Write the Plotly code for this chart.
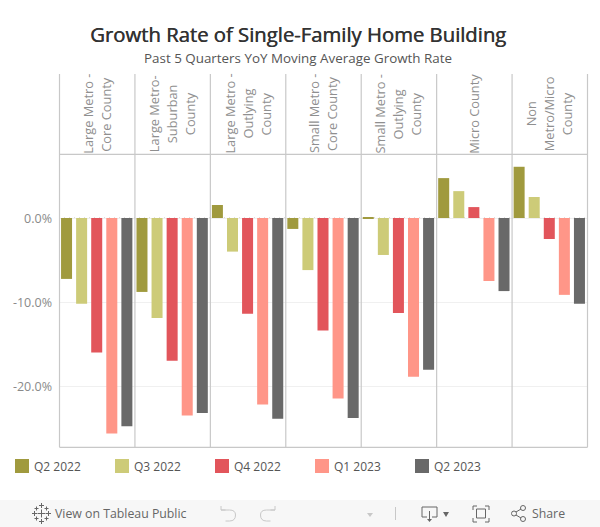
import plotly.graph_objects as go

regions = ["Large Metro -<br>Core County", "Large Metro-<br>Suburban<br>County", "Large Metro -<br>Outlying<br>County",
           "Small Metro -<br>Core County", "Small Metro -<br>Outlying<br>County", "Micro County", "Non<br>Metro/Micro<br>County"]
quarters = ["Q2 2022", "Q3 2022", "Q4 2022", "Q1 2023", "Q2 2023"]
colors = ["#A09A3E", "#CDCB78", "#E2555B", "#FF9688", "#696969"]
q2_2022 = [-7.25, -8.8, 1.55, -1.3, 0.1, 4.75, 6.1]
q3_2022 = [-10.2, -11.9, -4.0, -6.2, -4.4, 3.2, 2.5]
q4_2022 = [-16.0, -17.0, -11.4, -13.4, -11.3, 1.3, -2.5]
q1_2023 = [-25.65, -23.5, -22.2, -21.5, -18.9, -7.5, -9.15]
q2_2023 = [-24.8, -23.2, -23.9, -23.8, -18.05, -8.7, -10.2]
series = [q2_2022, q3_2022, q4_2022, q1_2023, q2_2023]
y_ticks = [0, -10, -20]
y_tick_labels = ["0.0%", "-10.0%", "-20.0%"]
y_range = [-27.26, 7.62]

W, H = 600, 527
L, R, T, B = 59, 587, 154, 447
FONT = "Open Sans"
GRID = "#C8C8C8"
ICON = "#666666"
SOFT = "#C8C8C8"
BAR_BG = "#F7F7F7"


def px(x):
    return (x - L) / (R - L)


def py(y):
    return (B - y) / (B - T)


fig = go.Figure()
for name, vals, col in zip(quarters, series, colors):
    fig.add_bar(name=name, x=regions, y=vals, marker_color=col, marker_line_width=0,
                hovertemplate="%{y:.1f}%<extra>" + name + "</extra>")

shapes = []
annotations = []


def rect(x0, y0, x1, y1, fill, line=None, layer="above"):
    shapes.append(dict(type="rect", xref="paper", yref="paper", x0=px(x0), x1=px(x1), y0=py(y0), y1=py(y1),
                       fillcolor=fill, line=dict(width=1 if line else 0, color=line or fill), layer=layer))


def seg(x0, y0, x1, y1, col=GRID, w=1, layer="above"):
    shapes.append(dict(type="line", xref="paper", yref="paper", x0=px(x0), x1=px(x1), y0=py(y0), y1=py(y1),
                       line=dict(color=col, width=w), layer=layer))


def poly(pts, col):
    path = "M" + " L".join(f"{px(a)},{py(b)}" for a, b in pts) + " Z"
    shapes.append(dict(type="path", xref="paper", yref="paper", path=path, fillcolor=col, line=dict(width=0)))


def curve(cmds, col):
    path = " ".join(c[0] + " ".join(f"{px(a)},{py(b)}" for a, b in c[1:]) for c in cmds)
    shapes.append(dict(type="path", xref="paper", yref="paper", path=path, line=dict(color=col, width=1)))


def text(x, y, s, size, col, anchor="center", angle=0, shadow=None):
    if anchor == "left":
        x -= 2
    f = dict(family=FONT, size=size, color=col)
    if shadow:
        f["shadow"] = shadow
    annotations.append(dict(xref="paper", yref="paper", x=px(x), y=py(y), text=s, showarrow=False,
                            font=f, xanchor=anchor, yanchor="middle", textangle=angle, align="center"))


# facet frame and header
step = (R - L) / len(regions)
for i in range(len(regions) + 1):
    xx = L + 0.5 + i * step
    seg(xx, 74, xx, B + 0.3, w=1.2)
seg(L + 0.5, 154.3, R + 0.5, 154.3, w=1.2)
seg(L + 0.5, B + 0.3, R + 0.5, B + 0.3, w=1.2)

# dotted zero line
shapes.append(dict(type="line", xref="paper", yref="y", x0=0, x1=1, y0=0, y1=0,
                   line=dict(color="#BDBDBD", width=1, dash="1px,4px"), layer="below"))

# rotated header labels, one annotation per line
for i, lab in enumerate(regions):
    lines = lab.split("<br>")
    cx = L + (i + 0.5) * step
    for j, ln in enumerate(lines):
        text(cx + (j - (len(lines) - 1) / 2) * 18, 114, ln, 12.8, "#8F8F8F", angle=-90)

# titles
text(298, 34, "Growth Rate of Single-Family Home Building", 20.3, "#333333", shadow="0.5px 0 0 #333333")
text(298, 57.5, "Past 5 Quarters YoY Moving Average Growth Rate", 13.4, "#555555")

# legend
for i, (q, col) in enumerate(zip(quarters, colors)):
    x0 = 15 + i * 100
    rect(x0, 459, x0 + 14, 473, col)
    text(x0 + 19, 466.5, q, 12, "#555555", anchor="left")

# toolbar
rect(0, 500, 600, 527, BAR_BG, layer="below")
text(55, 513.5, "View on Tableau Public", 12.3, ICON, anchor="left")
text(532, 513.5, "Share", 12.3, ICON, anchor="left")
# tableau mark
for cx, cy, r in [(41.5, 513.5, 4), (41.5, 505.5, 2.5), (41.5, 521.5, 2.5), (34.5, 513.5, 2.5), (48.5, 513.5, 2.5),
                  (36.5, 508.5, 2), (46.5, 508.5, 2), (36.5, 518.5, 2), (46.5, 518.5, 2)]:
    seg(cx - r, cy, cx + r, cy, ICON, 1)
    seg(cx, cy - r, cx, cy + r, ICON, 1)
# undo / redo
for s, o in [(1, 220.5), (-1, 275.5)]:
    curve([("M", (o + s * 0.5, 506)), ("L", (o + s * 0.5, 510)), ("L", (o + s * 5, 510))], SOFT)
    curve([("M", (o + s * 0.5, 510)), ("L", (o + s * 9, 510)), ("Q", (o + s * 15, 510), (o + s * 15, 515)),
           ("Q", (o + s * 15, 521), (o + s * 9, 521)), ("L", (o + s * 5, 521))], SOFT)
seg(395.5, 507, 395.5, 520, SOFT, 1)
# download
for a, b, c, d in [(422, 507, 437, 507), (422, 507, 422, 517), (437, 507, 437, 517), (422, 517, 427, 517), (432, 517, 437, 517),
                   (429.5, 511, 429.5, 520)]:
    seg(a, b, c, d, ICON, 1)
poly([(427, 519), (432, 519), (429.5, 522)], ICON)
poly([(367, 513), (373, 513), (370, 517)], SOFT)
poly([(443, 512), (449, 512), (446, 517)], ICON)
# fullscreen
rect(476.5, 509, 485.5, 518, "rgba(0,0,0,0)", ICON)
for a, b, sx, sy in [(473, 506, 1, 1), (489, 506, -1, 1), (473, 522, 1, -1), (489, 522, -1, -1)]:
    seg(a, b, a + sx * 4, b, ICON, 1)
    seg(a, b, a, b + sy * 4, ICON, 1)
# share
for cx, cy in [(514, 513.5), (523, 508), (523, 519)]:
    shapes.append(dict(type="circle", xref="paper", yref="paper", x0=px(cx - 2.5), x1=px(cx + 2.5), y0=py(cy + 2.5), y1=py(cy - 2.5),
                       line=dict(color=ICON, width=1), fillcolor=BAR_BG))
seg(516, 512, 521, 509, ICON, 1)
seg(516, 515, 521, 518, ICON, 1)

fig.update_layout(
    width=W, height=H, autosize=False, margin=dict(l=L, r=W - R, t=T, b=H - B),
    paper_bgcolor="white", plot_bgcolor="white", barmode="group", bargap=0, bargroupgap=0.27,
    showlegend=False, shapes=shapes, annotations=annotations, font=dict(family=FONT),
    xaxis=dict(showticklabels=False, ticks="", showgrid=False, zeroline=False, showline=False, fixedrange=True),
    yaxis=dict(range=y_range, tickvals=y_ticks, ticktext=y_tick_labels, showgrid=True, gridcolor="#F0F0F0",
               zeroline=False, showline=False, ticks="", ticklabelstandoff=6, ticklabelshift=1,
               tickfont=dict(family=FONT, size=12.5, color="#8A8A8A"), fixedrange=True),
)
fig.write_html("out.html", config=dict(displayModeBar=False),
               post_script="document.body.style.margin='0';document.documentElement.style.overflow='hidden';")
